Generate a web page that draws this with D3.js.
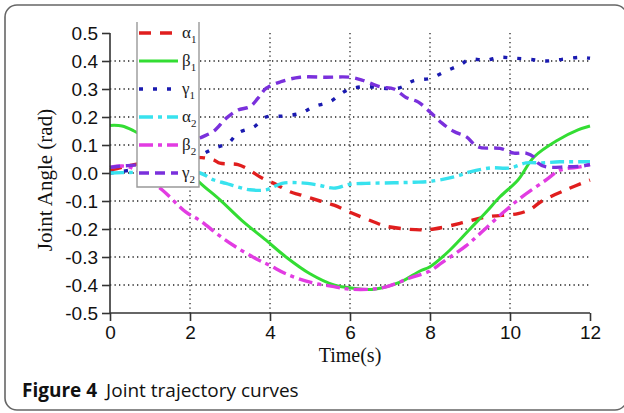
<!DOCTYPE html>
<html><head><meta charset="utf-8">
<script src="https://cdn.jsdelivr.net/npm/d3@7"></script>
<style>body{margin:0;background:#fff}svg{display:block}</style>
</head><body>
<svg id="c" width="624" height="413"></svg>
<script>
const xTicks = [0, 2, 4, 6, 8, 10, 12];
const yTicks = [-0.5, -0.4, -0.3, -0.2, -0.1, 0.0, 0.1, 0.2, 0.3, 0.4, 0.5];
const seriesNames = ["α1", "β1", "γ1", "α2", "β2", "γ2"];

const alpha1 = [[0,0.01],[0.3,0.02],[0.6,0.03],[1.5,0.05],[2.3,0.055],[2.6,0.046],[2.75,0.035],[3.2,0.03],[3.4,0.018],[3.8,-0.018],[4.1,-0.037],[4.5,-0.067],[4.75,-0.078],[5.25,-0.10],[5.6,-0.115],[6.0,-0.14],[6.6,-0.175],[6.9,-0.19],[7.4,-0.20],[7.75,-0.203],[8.1,-0.2],[8.75,-0.18],[9.4,-0.157],[10.2,-0.145],[10.5,-0.13],[10.8,-0.1],[11.4,-0.06],[12,-0.025]];
const beta1 = [[0,0.17],[0.3,0.168],[0.6,0.15],[1.2,0.1],[1.8,0.03],[2.25,-0.035],[2.75,-0.096],[3.3,-0.17],[3.9,-0.24],[4.4,-0.30],[5.0,-0.36],[5.6,-0.40],[6.0,-0.41],[6.6,-0.415],[7.25,-0.39],[7.75,-0.35],[8.0,-0.335],[8.5,-0.275],[9.0,-0.20],[9.4,-0.14],[9.75,-0.085],[10.2,-0.025],[10.6,0.057],[11.2,0.118],[11.7,0.154],[12,0.168]];
const gamma1 = [[0,0.0],[0.5,0.01],[1.2,0.03],[1.8,0.045],[2.25,0.064],[2.6,0.088],[2.96,0.107],[3.2,0.143],[3.6,0.165],[3.9,0.2],[4.3,0.203],[4.75,0.213],[5.1,0.237],[5.5,0.255],[5.9,0.294],[6.3,0.308],[7.2,0.303],[7.6,0.33],[8.0,0.338],[8.4,0.364],[8.75,0.386],[9.0,0.406],[9.4,0.403],[9.75,0.413],[10.1,0.41],[10.5,0.406],[10.9,0.4],[11.3,0.406],[11.75,0.413],[12,0.41]];
const alpha2 = [[0,0.0],[0.5,0.002],[1.2,0.005],[1.8,0.004],[2.25,0.0],[2.6,-0.025],[2.9,-0.037],[3.2,-0.05],[3.5,-0.06],[3.9,-0.06],[4.3,-0.037],[4.75,-0.035],[5.2,-0.043],[5.6,-0.054],[6.0,-0.04],[6.4,-0.037],[7.1,-0.035],[7.6,-0.033],[8.0,-0.03],[8.6,-0.014],[9.0,0.004],[9.5,0.018],[10.0,0.018],[10.4,0.036],[10.8,0.036],[11.25,0.04],[12,0.04]];
const beta2 = [[0,0.02],[0.3,0.025],[0.6,0.015],[1.3,-0.06],[1.9,-0.14],[2.25,-0.17],[2.7,-0.22],[3.1,-0.26],[3.7,-0.31],[4.0,-0.33],[4.4,-0.36],[5.0,-0.39],[5.6,-0.406],[6.0,-0.415],[6.8,-0.41],[7.5,-0.375],[8.0,-0.35],[8.3,-0.32],[8.9,-0.26],[9.3,-0.21],[9.8,-0.145],[10.3,-0.085],[10.9,-0.025],[11.25,0.01],[11.75,0.022],[12,0.03]];
const gamma2 = [[0,0.02],[0.3,0.025],[0.6,0.028],[1.0,0.035],[1.6,0.075],[2.25,0.125],[2.6,0.15],[2.9,0.195],[3.2,0.225],[3.5,0.237],[3.7,0.267],[3.9,0.302],[4.25,0.325],[4.75,0.342],[5.4,0.342],[6.0,0.342],[6.3,0.332],[6.75,0.308],[7.1,0.3],[7.4,0.27],[7.7,0.254],[8.0,0.218],[8.3,0.178],[8.6,0.148],[8.9,0.13],[9.2,0.093],[9.75,0.088],[10.1,0.071],[10.4,0.071],[10.6,0.057],[10.7,0.036],[10.9,0.022],[11.4,0.022],[11.8,0.025],[12,0.03]];

const seriesData = [alpha1, beta1, gamma1, alpha2, beta2, gamma2];
const colors = ["#e01e1e", "#33dd33", "#1a1ab0", "#38e2ee", "#e23ce2", "#7a30dc"];
const dashes = ["12,9", null, "4,10", "14,5,4,5", "14,5,4,5", "10,6"];
const widths = [3.4, 3, 3.4, 3.4, 3.4, 3.4];

const svg = d3.select("#c");
const x = d3.scaleLinear().domain([0, 12]).range([110, 590]);
const y = d3.scaleLinear().domain([-0.5, 0.5]).range([313, 33]);

// frame
svg.append("rect").attr("x", 5).attr("y", 5).attr("width", 622).attr("height", 405)
  .attr("rx", 12).attr("fill", "none").attr("stroke", "#666").attr("stroke-width", 1.6);

// grid
const g = svg.append("g");
g.selectAll(".hg").data(yTicks.filter(v => v > -0.45 && v < 0.45)).join("line")
  .attr("x1", x(0)).attr("x2", x(12)).attr("y1", d => y(d)).attr("y2", d => y(d))
  .attr("stroke", "#222").attr("stroke-width", 1.3).attr("stroke-dasharray", "1.3,3.2");
g.selectAll(".vg").data(xTicks.filter(v => v > 0 && v < 12)).join("line")
  .attr("x1", d => x(d)).attr("x2", d => x(d)).attr("y1", y(0.5)).attr("y2", y(-0.5))
  .attr("stroke", "#222").attr("stroke-width", 1.3).attr("stroke-dasharray", "1.3,3.2");

// curves
const line = d3.line().x(d => x(d[0])).y(d => y(d[1])).curve(d3.curveCatmullRom.alpha(0.5));
seriesData.forEach((s, i) => {
  svg.append("path").attr("d", line(s)).attr("fill", "none")
    .attr("stroke", colors[i]).attr("stroke-width", widths[i])
    .attr("stroke-dasharray", dashes[i]).attr("stroke-linecap", "butt");
});

// axes
const axisColor = "#333";
const xa = svg.append("g").attr("transform", `translate(0,${y(-0.5)})`);
xa.call(d3.axisBottom(x).tickValues(d3.range(1, 12, 2)).tickSize(4).tickFormat(""));
xa.call(d3.axisBottom(x).tickValues(xTicks).tickSizeInner(8).tickSizeOuter(0).tickPadding(4).tickFormat(d3.format("d")));
const ya = svg.append("g").attr("transform", `translate(${x(0)},0)`);
ya.call(d3.axisLeft(y).tickValues(d3.range(-0.45, 0.5, 0.1)).tickSize(4).tickFormat(""));
ya.call(d3.axisLeft(y).tickValues(yTicks).tickSizeInner(8).tickSizeOuter(0).tickPadding(4).tickFormat(d3.format(".1f")));
[xa, ya].forEach(a => {
  a.selectAll("path,line").attr("stroke", axisColor).attr("stroke-width", 1.6);
  a.selectAll("text").attr("fill", "#111").style("font-family", "Liberation Sans, Arial, sans-serif").style("font-size", "19px");
});
xa.selectAll("text").attr("dy", "0.75em");
ya.selectAll("text").text(d => d3.format(".1f")(d).replace("−", "-"));
xa.selectAll(".domain").attr("d", `M${x(0)},0H${x(12)}`);
ya.selectAll(".domain").attr("d", `M0,${y(-0.5)}V${y(0.5)}`);

// axis titles
svg.append("text").attr("x", 350).attr("y", 362).attr("text-anchor", "middle")
  .style("font-family", "Liberation Serif, Times New Roman, serif").style("font-size", "20px").attr("fill", "#111").text("Time(s)");
svg.append("text").attr("transform", "translate(52,180) rotate(-90)").attr("text-anchor", "middle")
  .style("font-family", "Liberation Serif, Times New Roman, serif").style("font-size", "21px").attr("fill", "#111").text("Joint Angle (rad)");

// legend
const lg = svg.append("g");
lg.append("rect").attr("x", 137).attr("y", 22).attr("width", 62).attr("height", 165).attr("fill", "#fff");
lg.append("path").attr("d", "M137,22V187H199V22").attr("fill", "none").attr("stroke", "#999").attr("stroke-width", 1.4);
seriesNames.forEach((n, i) => {
  const yy = y(0.5 - i * 0.1);
  lg.append("line").attr("x1", 139).attr("x2", 178).attr("y1", yy).attr("y2", yy)
    .attr("stroke", colors[i]).attr("stroke-width", widths[i]).attr("stroke-dasharray", dashes[i]);
  const t = lg.append("text").attr("x", 182).attr("y", yy + 5)
    .style("font-family", "Liberation Serif, Times New Roman, serif").style("font-size", "17px").attr("fill", "#222");
  t.append("tspan").text(n[0]);
  t.append("tspan").attr("dy", 5).style("font-size", "11px").text(n.slice(1));
});

// caption
const cap = svg.append("text").attr("x", 22).attr("y", 397)
  .style("font-family", "Open Sans, sans-serif").style("font-size", "19px").attr("fill", "#111");
cap.append("tspan").style("font-weight", "bold").text("Figure 4");
cap.append("tspan").attr("dx", 9).text("Joint trajectory curves");
</script>
</body></html>
